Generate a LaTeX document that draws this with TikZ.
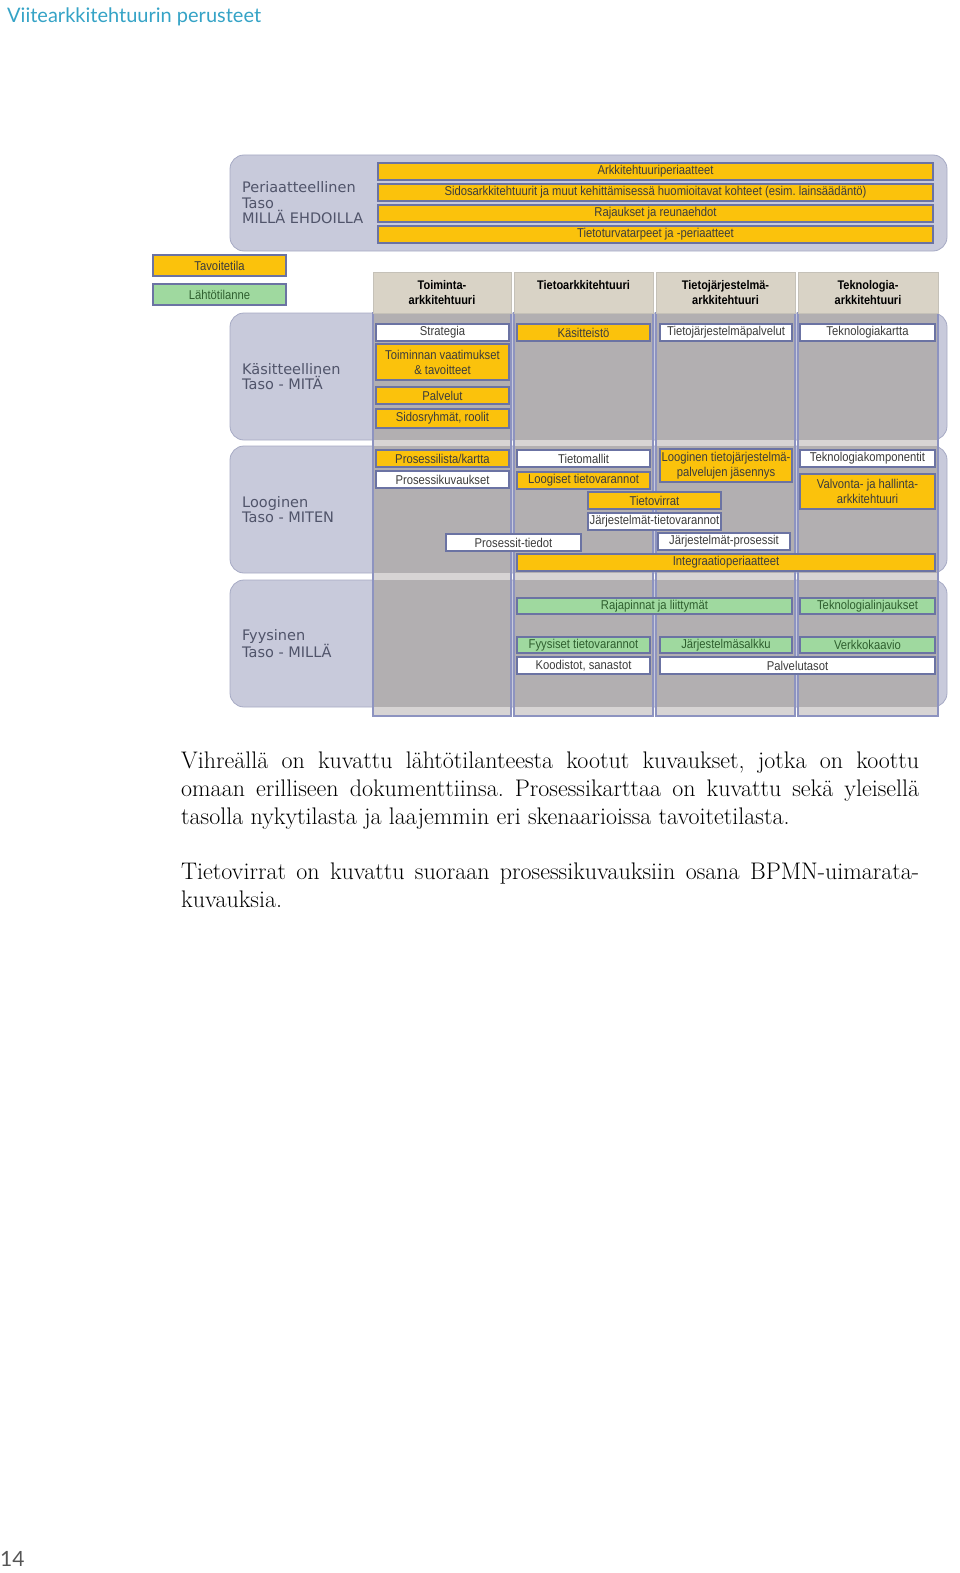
\documentclass[tikz,border=0pt]{standalone}
\usepackage{fontspec}
\setsansfont{Liberation Sans}
\newfontfamily\laatikkofont[FakeStretch=0.88]{Liberation Sans}
\newfontfamily\tasofont{DejaVu Sans}
\newfontfamily\otsikkofont{Lato}
\usetikzlibrary{positioning}
\definecolor{Teal}{HTML}{35A3C6}
\definecolor{Band}{HTML}{C8CADB}
\definecolor{BandLine}{HTML}{A6AAC4}
\definecolor{ColGray}{HTML}{B2AFB1}
\definecolor{ColLight}{HTML}{D7D4D4}
\definecolor{ColLine}{HTML}{8D93C0}
\definecolor{Head}{HTML}{D9D3C6}
\definecolor{HeadLine}{HTML}{C5C1B8}
\definecolor{Oranssi}{HTML}{FBC20C}
\definecolor{Vihrea}{HTML}{9FD99F}
\definecolor{BoxLine}{HTML}{6B73A3}
\definecolor{Ink}{HTML}{3C3C3C}
\definecolor{GreenInk}{HTML}{2F5F2F}
\definecolor{TasoInk}{HTML}{50546A}
\definecolor{Mute}{HTML}{555555}
\frenchspacing

\begin{document}
\begin{tikzpicture}[x=1pt,y=-1pt,
  taso/.style={fill=Band,draw=BandLine,line width=0.8pt,rounded corners=14pt},
  tasoteksti/.style={anchor=west,align=left,inner sep=0pt,text=TasoInk,
    font=\tasofont\fontsize{14.5}{15.5}\selectfont},
  sarakevaalea/.style={fill=ColLight},
  sarake/.style={fill=ColGray},
  sarakeviiva/.style={draw=ColLine,line width=1.2pt},
  otsikko/.style={fill=Head,draw=HeadLine,line width=0.8pt},
  otsikkoteksti/.style={anchor=north,align=center,inner sep=0pt,text=black,
    font=\laatikkofont\bfseries\fontsize{12.5}{15}\selectfont},
  laatikko/.style={draw=BoxLine,line width=1.3pt,inner sep=0pt,align=center,
    text=Ink,font=\laatikkofont\fontsize{12.8}{15}\selectfont},
  tavoite/.style={laatikko,fill=Oranssi},
  lahto/.style={laatikko,fill=Vihrea,text=GreenInk},
  valkoinen/.style={laatikko,fill=white},
  kuvaus/.style={anchor=base west,inner sep=0pt,text width=738pt,align=justify,
    font=\fontsize{24}{28}\selectfont}]
  \useasboundingbox (0,0) rectangle (960,1573);

  \node[anchor=base west,inner sep=0pt,text=Teal,font=\otsikkofont\fontsize{20}{22}\selectfont]
    (otsikko) at (7,23) {Viitearkkitehtuurin perusteet};

  \foreach \nimi/\ya/\yb/\teksti in {
    periaate/155/251/{Periaatteellinen\\Taso\\MILLÄ EHDOILLA},
    kasite/313/440/{Käsitteellinen\\Taso - MITÄ},
    looginen/446/573/{Looginen\\Taso - MITEN},
    fyysinen/580/707/{Fyysinen\\Taso - MILLÄ}} {
    \draw[taso] (230,\ya) rectangle (947,\yb);
    \node[tasoteksti] (\nimi) at (242,{(\ya+\yb)/2}) {\teksti};
  }

  \foreach \nimi/\xa/\xb/\teksti in {
    toiminta/373/511/{Toiminta-\\arkkitehtuuri},
    tieto/514/653/Tietoarkkitehtuuri,
    tj/656/795/{Tietojärjestelmä-\\arkkitehtuuri},
    tekno/798/938/{Teknologia-\\arkkitehtuuri}} {
    \fill[sarakevaalea] (\xa,313) rectangle (\xb,716);
    \foreach \ya/\yb in {313/440,446/573,580/707}
      \fill[sarake] (\xa,\ya) rectangle (\xb,\yb);
    \draw[sarakeviiva] (\xa,313) rectangle (\xb,716);
    \draw[otsikko] (\xa,272) rectangle (\xb,313);
    \node[otsikkoteksti] (\nimi) at ({(\xa+\xb)/2},280) {\teksti};
  }

  \foreach \nimi/\tyyli/\xa/\ya/\xb/\yb/\teksti in {
    arkperiaatteet/tavoite/378/163/933/180/Arkkitehtuuriperiaatteet,
    sidos/tavoite/378/184/933/201/{Sidosarkkitehtuurit ja muut kehittämisessä huomioitavat kohteet (esim. lainsäädäntö)},
    rajaukset/tavoite/378/205/933/222/Rajaukset ja reunaehdot,
    tietoturva/tavoite/378/226/933/243/Tietoturvatarpeet ja -periaatteet,
    tavoitetila/tavoite/153/255/286/276/Tavoitetila,
    lahtotilanne/lahto/153/284/286/305/Lähtötilanne,
    strategia/valkoinen/376/324/509/341/Strategia,
    vaatimukset/tavoite/376/344/509/380/{Toiminnan vaatimukset\\\& tavoitteet},
    palvelut/tavoite/376/387/509/404/Palvelut,
    sidosryhmat/tavoite/376/409/509/428/{Sidosryhmät, roolit},
    kasitteisto/tavoite/517/324/650/341/Käsitteistö,
    tjpalvelut/valkoinen/660/324/792/341/Tietojärjestelmäpalvelut,
    teknokartta/valkoinen/800/324/935/341/Teknologiakartta,
    prosessilista/tavoite/376/450/509/467/{Prosessilista/kartta},
    prosessikuvaukset/valkoinen/376/471/509/488/Prosessikuvaukset,
    tietomallit/valkoinen/517/450/650/467/Tietomallit,
    loogisettv/tavoite/517/472/650/489/Loogiset tietovarannot,
    tjjasennys/tavoite/660/449/792/482/{Looginen tietojärjestelmä-\\palvelujen jäsennys},
    teknokomp/valkoinen/800/450/935/467/Teknologiakomponentit,
    valvonta/tavoite/800/474/935/509/{Valvonta- ja hallinta-\\arkkitehtuuri},
    tietovirrat/tavoite/588/492/721/509/Tietovirrat,
    jtv/valkoinen/588/513/721/530/Järjestelmät-tietovarannot,
    prosessittiedot/valkoinen/446/534/581/551/Prosessit-tiedot,
    jprosessit/valkoinen/658/533/790/550/Järjestelmät-prosessit,
    integraatio/tavoite/517/554/935/571/Integraatioperiaatteet,
    rajapinnat/lahto/517/598/792/614/Rajapinnat ja liittymät,
    teknolinjaukset/lahto/800/598/935/614/Teknologialinjaukset,
    fyysisettv/lahto/517/637/650/653/Fyysiset tietovarannot,
    salkku/lahto/660/637/792/653/Järjestelmäsalkku,
    verkko/lahto/800/637/935/653/Verkkokaavio,
    koodistot/valkoinen/517/657/650/674/{Koodistot, sanastot},
    palvelutasot/valkoinen/660/657/935/674/Palvelutasot} {
    \node[\tyyli,minimum width={(\xb-\xa)*1pt},minimum height={(\yb-\ya)*1pt}]
      (\nimi) at ({(\xa+\xb)/2},{(\ya+\yb)/2}) {\teksti};
  }

  \node[kuvaus] (kuvaus1) at (181,768) {Vihreällä on kuvattu lähtötilanteesta kootut kuvaukset, jotka on koottu\linebreak
    omaan erilliseen dokumenttiinsa. Prosessikarttaa on kuvattu sekä yleisellä\linebreak
    tasolla nykytilasta ja laajemmin eri skenaarioissa tavoitetilasta.};
  \node[kuvaus] (kuvaus2) at (181,879) {Tietovirrat on kuvattu suoraan prosessikuvauksiin osana BPMN-uimarata-\linebreak
    kuvauksia.};

  \node[anchor=base west,inner sep=0pt,text=Mute,font=\otsikkofont\fontsize{21}{24}\selectfont]
    (sivu) at (0,1566) {14};
\end{tikzpicture}
\end{document}
